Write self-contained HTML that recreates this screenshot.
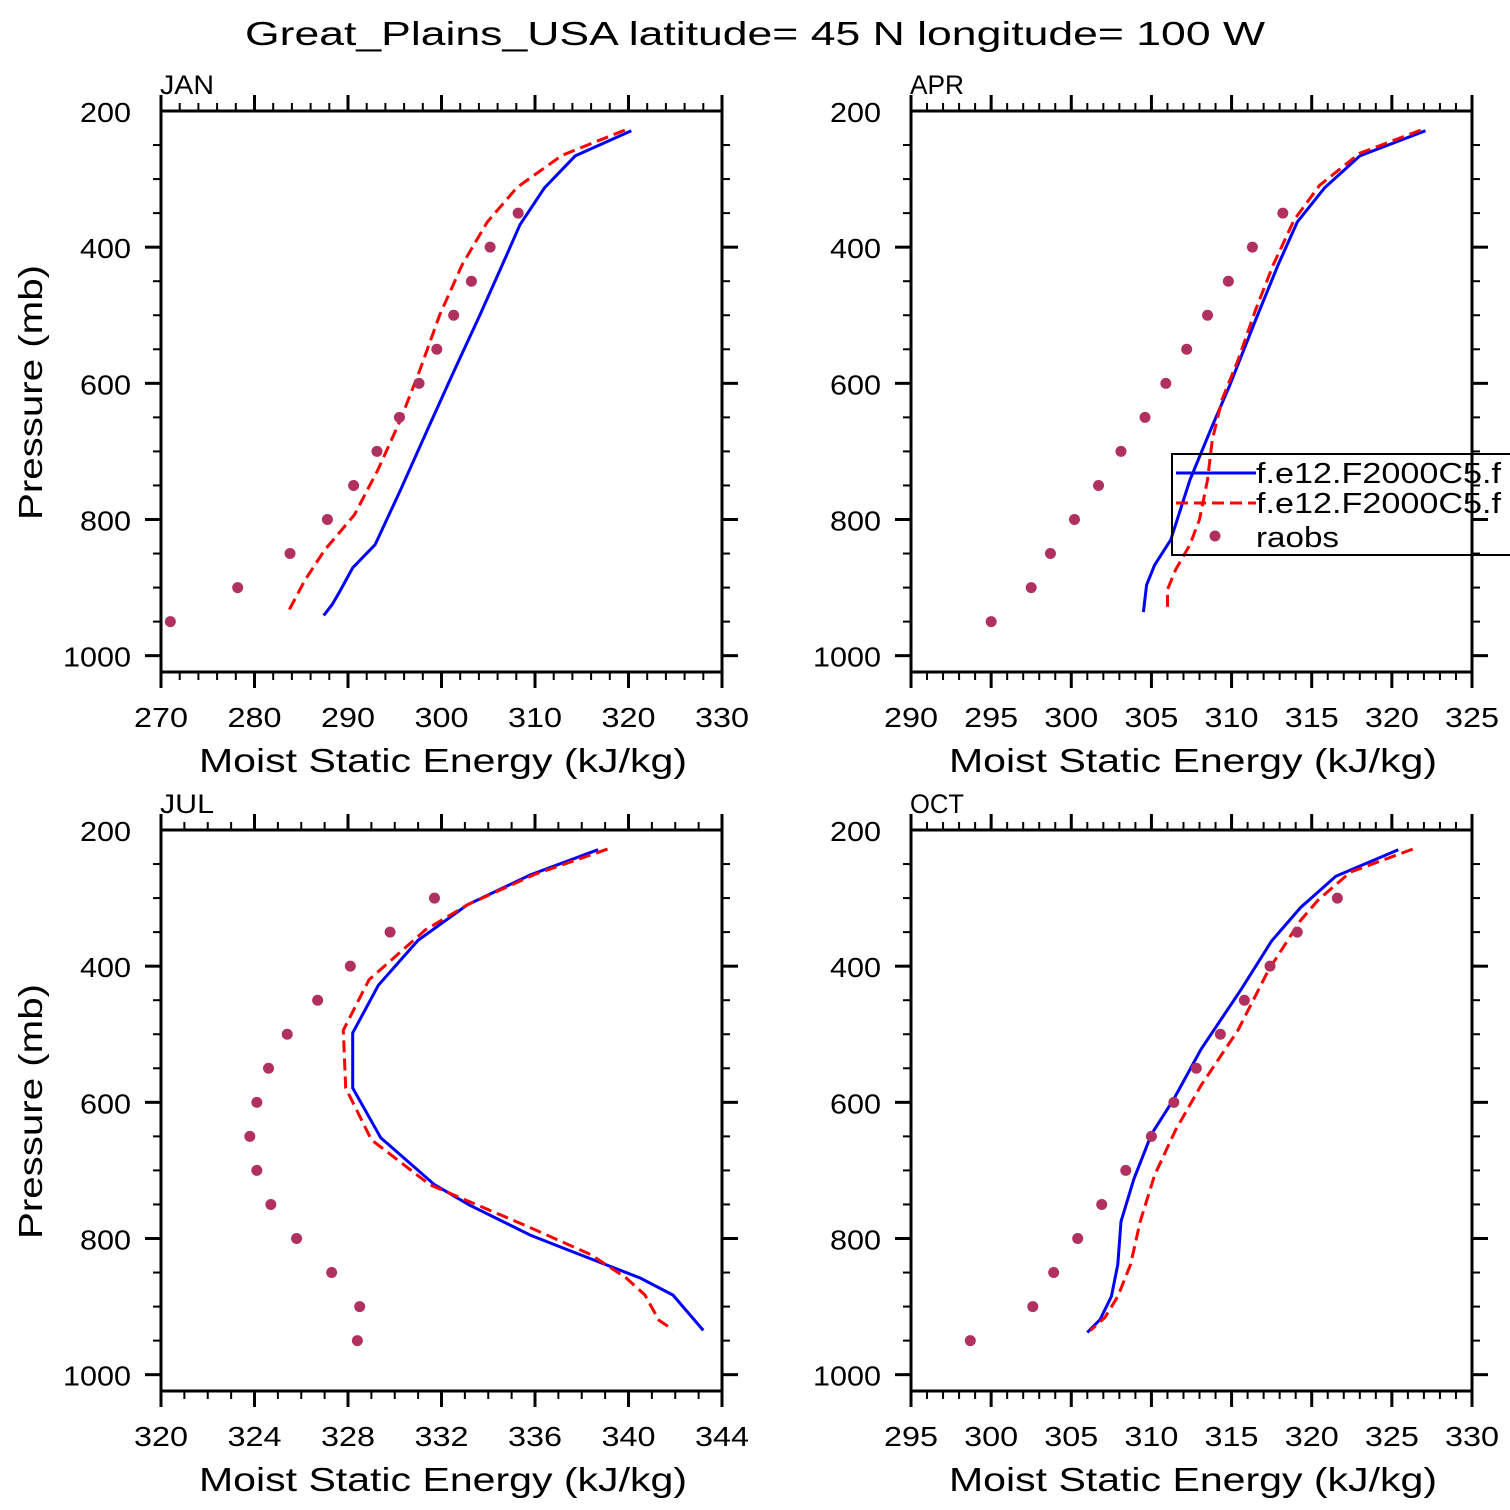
<!DOCTYPE html>
<html><head><meta charset="utf-8"><style>
html,body{margin:0;padding:0;background:#fff;}
svg{display:block;font-family:"Liberation Sans","DejaVu Sans",sans-serif;}
</style></head><body>
<svg id="chart" width="1510" height="1510" viewBox="0 0 1510 1510" xmlns="http://www.w3.org/2000/svg">
<text x="245" y="45" font-size="33" fill="#000" textLength="1020" lengthAdjust="spacingAndGlyphs">Great_Plains_USA  latitude= 45 N longitude= 100 W</text>
</svg>
<script>
// ---- data ----
const janBlueX=[320.3,314.3,311.0,308.4,306.5,304.1,301.4,298.6,295.6,292.9,290.5,289.1,288.3,287.4];
const janBlueP=[229,266,313,367,426,500,580,665,757,837,871,906,925,941];
const janRedX=[319.6,312.9,308.1,304.9,302.2,299.8,297.7,295.6,293.2,290.7,287.5,285.4,283.7];
const janRedP=[228,265,312,363,426,500,580,654,727,793,845,889,933];
const janDotX=[308.2,305.2,303.2,301.3,299.5,297.6,295.5,293.1,290.6,287.8,283.8,278.2,271.0];
const janDotP=[350,400,450,500,550,600,650,700,750,800,850,900,950];

const aprBlueX=[322.1,318.0,315.8,314.1,312.9,311.5,309.9,308.7,307.4,306.8,306.2,305.2,304.7,304.5];
const aprBlueP=[229,266,313,363,426,507,602,668,742,786,830,867,896,936];
const aprRedX=[321.8,318.0,315.5,313.9,312.6,311.5,310.4,309.4,308.8,308.5,308.0,307.4,306.5,306.0,306.0];
const aprRedP=[228,262,309,360,426,492,566,624,683,742,800,837,874,903,936];
const aprDotX=[313.2,311.3,309.8,308.5,307.2,305.9,304.6,303.1,301.7,300.2,298.7,297.5,295.0];
const aprDotP=[350,400,450,500,550,600,650,700,750,800,850,900,950];

const julBlueX=[338.7,335.8,333.1,331.0,329.3,328.2,328.2,329.4,331.7,333.2,335.8,337.2,340.5,341.9,343.2];
const julBlueP=[229,266,310,362,428,498,579,652,721,751,795,814,858,883,935];
const julRedX=[339.1,336.0,333.1,331.3,328.9,327.8,327.9,329.0,331.5,335.8,338.4,339.9,340.7,341.3,341.9];
const julRedP=[228,265,310,347,420,494,579,655,721,784,824,858,883,920,934];
const julDotX=[331.7,329.8,328.1,326.7,325.4,324.6,324.1,323.8,324.1,324.7,325.8,327.3,328.5,328.4];
const julDotP=[300,350,400,450,500,550,600,650,700,750,800,850,900,950];

const octBlueX=[325.4,321.5,319.3,317.5,315.6,313.1,311.4,310.0,308.9,308.1,307.9,307.5,306.8,306.0];
const octBlueP=[229,268,314,363,434,522,595,647,713,775,838,885,919,938];
const octRedX=[326.3,322.4,320.4,319.3,317.3,315.4,313.1,311.5,310.2,309.3,308.7,307.9,307.1,306.2];
const octRedP=[228,262,303,333,406,494,575,641,707,775,838,885,916,935];
const octDotX=[321.6,319.1,317.4,315.8,314.3,312.8,311.4,310.0,308.4,306.9,305.4,303.9,302.6,298.7];
const octDotP=[300,350,400,450,500,550,600,650,700,750,800,850,900,950];

const pTicks=[200,400,600,800,1000];
const janTicks=[270,280,290,300,310,320,330];
const aprTicks=[290,295,300,305,310,315,320,325];
const julTicks=[320,324,328,332,336,340,344];
const octTicks=[295,300,305,310,315,320,325,330];
const legendLabels=["f.e12.F2000C5.f","f.e12.F2000C5.f","raobs"];

// ---- drawing ----
const svg=document.getElementById('chart');
const NS='http://www.w3.org/2000/svg';
function mk(tag,attrs,parent){const e=document.createElementNS(NS,tag);for(const k in attrs)e.setAttribute(k,attrs[k]);(parent||svg).appendChild(e);return e;}

function panel(name,x0,y0,xmin,xmax,xt,minorN,blX,blP,rdX,rdP,dX,dP){
  const W=561,H=561,P0=200,P1=1024;
  const g=mk('g',{});
  
  
  const sx=v=>x0+(v-xmin)/(xmax-xmin)*W;
  const sy=p=>y0+(p-P0)/(P1-P0)*H;
  const lab=mk('text',{x:x0-1,y:y0-17,'font-size':27,fill:'#000',textLength:54,lengthAdjust:'spacingAndGlyphs'},g);lab.textContent=name.toUpperCase();
  
  
  for(let p=250;p<=1000;p+=50){
    const maj=pTicks.includes(p);const L=maj?16:8;
    mk('line',{x1:x0-L,x2:x0,y1:sy(p),y2:sy(p),stroke:'#000','stroke-width':maj?3:2},g);
    mk('line',{x1:x0+W,x2:x0+W+L,y1:sy(p),y2:sy(p),stroke:'#000','stroke-width':maj?3:2},g);
  }
  pTicks.forEach(p=>{const s=String(p);const t=mk('text',{x:x0-30-s.length*17,y:sy(p)+11,'font-size':28,fill:'#000',textLength:s.length*17,lengthAdjust:'spacingAndGlyphs'},g);t.textContent=s;
    
    });
  const step=(xt[1]-xt[0])/minorN;
  for(let i=0;i<=(xt.length-1)*minorN;i++){
    const v=xt[0]+i*step;const maj=i%minorN===0;const L=maj?16:8;const X=sx(v);
    mk('line',{x1:X,x2:X,y1:y0+H,y2:y0+H+L,stroke:'#000','stroke-width':maj?3:2},g);
    mk('line',{x1:X,x2:X,y1:y0-L,y2:y0,stroke:'#000','stroke-width':maj?3:2},g);
  }
  xt.forEach(v=>{const t=mk('text',{x:sx(v)-27,y:y0+H+55,'font-size':28,fill:'#000',textLength:54,lengthAdjust:'spacingAndGlyphs'},g);t.textContent=v;
    
    });
  mk('rect',{x:x0,y:y0,width:W,height:H,fill:'none',stroke:'#000','stroke-width':3},g);
  const xl=mk('text',{x:x0+38,y:y0+H+100,'font-size':33,fill:'#000',textLength:488,lengthAdjust:'spacingAndGlyphs'},g);xl.textContent='Moist Static Energy (kJ/kg)';
  
  
  if(x0<500){const yl=mk('text',{x:0,y:0,'font-size':33,fill:'#000',textLength:255,lengthAdjust:'spacingAndGlyphs',transform:`translate(42,${y0+409}) rotate(-90)`},g);yl.textContent='Pressure (mb)';
    
    }
  const pts=(X,P)=>X.map((v,i)=>sx(v).toFixed(1)+','+sy(P[i]).toFixed(1)).join(' ');
  const b=mk('polyline',{points:pts(blX,blP),fill:'none',stroke:'#0000ff','stroke-width':3},g);
  
  
  const r=mk('polyline',{points:pts(rdX,rdP),fill:'none',stroke:'#ff0000','stroke-width':3,'stroke-dasharray':'12,6'},g);
  
  
  dX.forEach((v,i)=>{const c=mk('circle',{cx:sx(v),cy:sy(dP[i]),r:5.5,fill:'#b03060'},g);
    
    });
}
panel('jan',161,111,270,330,janTicks,5,janBlueX,janBlueP,janRedX,janRedP,janDotX,janDotP);
panel('apr',911,111,290,325,aprTicks,5,aprBlueX,aprBlueP,aprRedX,aprRedP,aprDotX,aprDotP);
panel('jul',161,830,320,344,julTicks,4,julBlueX,julBlueP,julRedX,julRedP,julDotX,julDotP);
panel('oct',911,830,295,330,octTicks,5,octBlueX,octBlueP,octRedX,octRedP,octDotX,octDotP);

const lg=mk('g',{});


mk('rect',{x:1172,y:454,width:340,height:101,fill:'none',stroke:'#000','stroke-width':2},lg);
mk('line',{x1:1176,x2:1256,y1:473,y2:473,stroke:'#0000ff','stroke-width':3},lg);
mk('line',{x1:1176,x2:1256,y1:503,y2:503,stroke:'#ff0000','stroke-width':3,'stroke-dasharray':'12,6'},lg);
mk('circle',{cx:1215,cy:536,r:5.5,fill:'#b03060'},lg);
const lw=[245,245,83];
[483,513,547].forEach((y,i)=>{const t=mk('text',{x:1256,y:y,'font-size':29,fill:'#000',textLength:lw[i],lengthAdjust:'spacingAndGlyphs'},lg);t.textContent=legendLabels[i];
  
  });
</script>
</body></html>
